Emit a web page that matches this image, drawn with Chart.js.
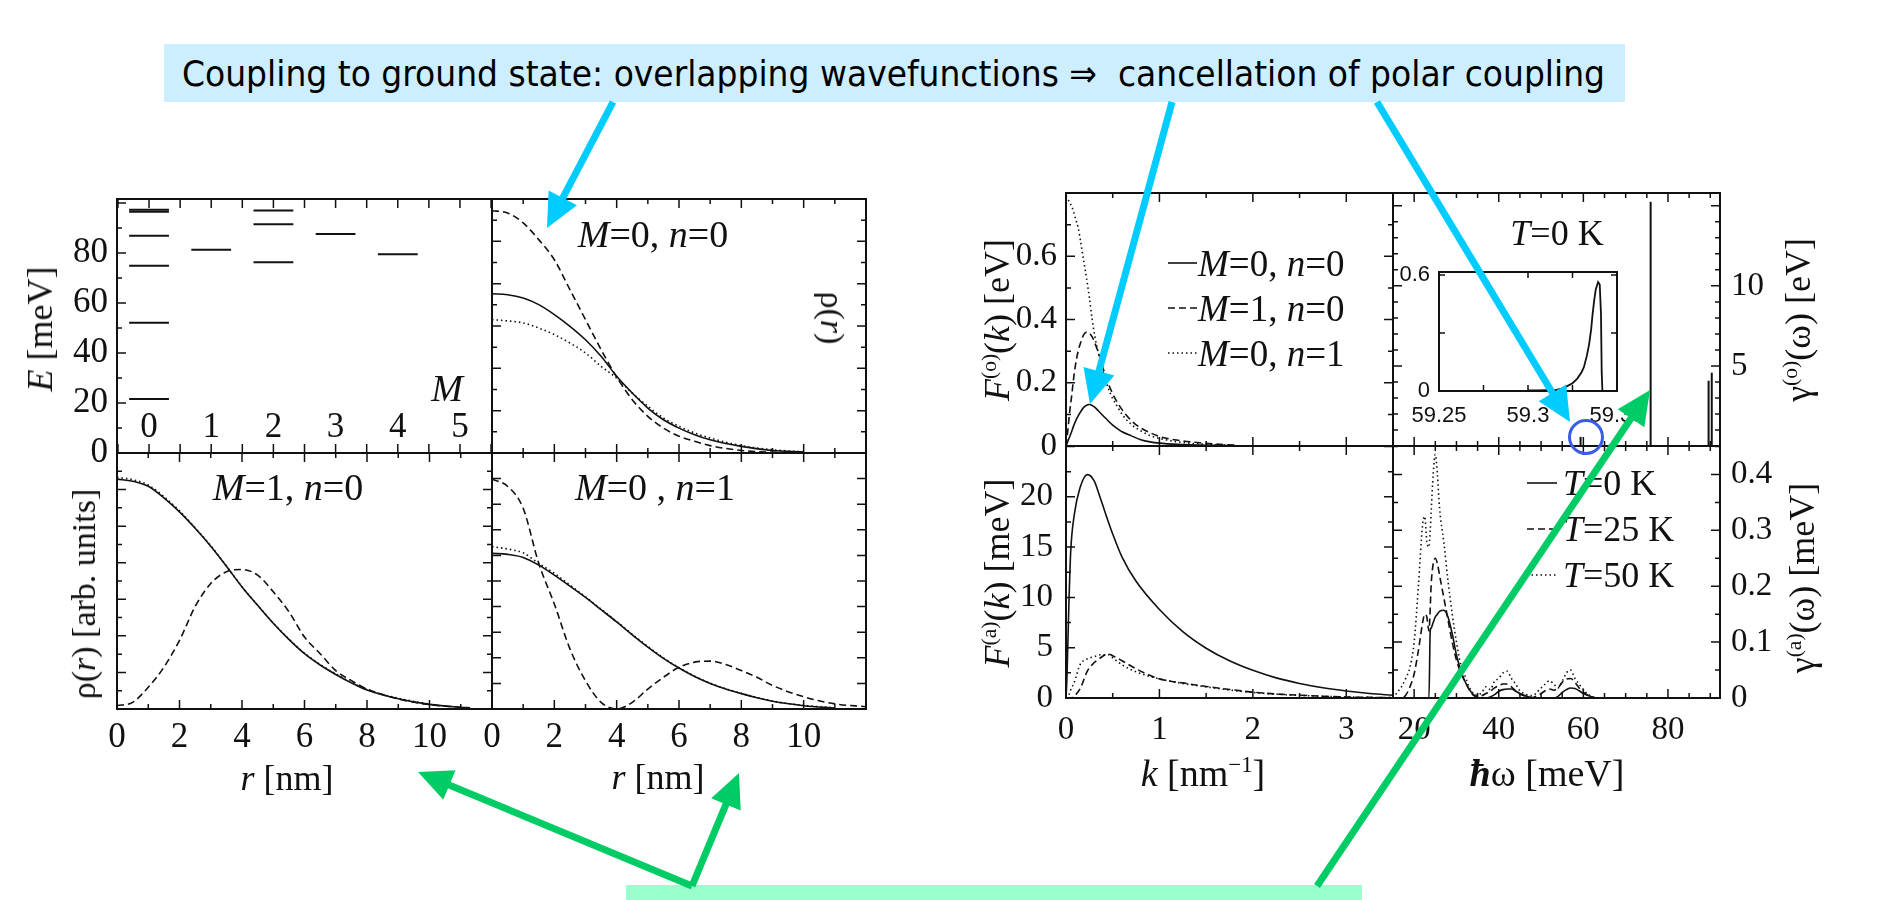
<!DOCTYPE html>
<html><head><meta charset="utf-8">
<script src="https://cdn.jsdelivr.net/npm/chart.js@4.4.1/dist/chart.umd.min.js"></script>
<style>
html,body{margin:0;padding:0;background:#fff;}
body{width:1878px;height:900px;position:relative;overflow:hidden;}
canvas.pc{position:absolute;}
.lbl{position:absolute;white-space:nowrap;font-family:'Liberation Serif','Times New Roman',serif;line-height:1;color:#111;transform-origin:center center;}
.lbl sup{font-size:0.6em;line-height:0;vertical-align:0.62em;}
#topbox{position:absolute;left:164px;top:44px;width:1461px;height:58px;background:#CCEEFF;}
#toptext{position:absolute;left:182px;top:56px;font-family:'DejaVu Sans',sans-serif;font-size:36px;line-height:36px;white-space:nowrap;color:#000;transform-origin:left center;}
#greenbox{position:absolute;left:626px;top:885px;width:736px;height:15px;background:#99FFCC;}
#ov{position:absolute;left:0;top:0;}
</style></head><body>
<div id="topbox"></div>
<div id="toptext">Coupling to ground state: overlapping wavefunctions ⇒&nbsp; cancellation of polar coupling</div>
<div id="greenbox"></div>
<script>
// ================= DATA =================
// Energy levels (top-left panel)
const levelM = [0,0,0,0,0,0,1,2,2,2,3,4];
const levelE = [21.6,52.1,74.9,86.9,96.5,97.3,81.3,76.3,91.5,97.0,87.6,79.5];
const eTicks = [0,20,40,60,80];
const eTickLabels = ['0','20','40','60','80'];
const mTicks = [0,1,2,3,4,5];
const mTickLabels = ['0','1','2','3','4','5'];
const rTicks = [0,2,4,6,8,10];
const rTickLabels = ['0','2','4','6','8','10'];

// rho(r): M=0, n=0 panel
const rTR = [0,0.5,1,1.5,2,2.5,3,3.5,4,4.5,5,5.5,6,6.5,7,8,9,10];
const trSolid = [0.627,0.623,0.61,0.584,0.545,0.499,0.446,0.381,0.302,0.236,0.177,0.131,0.098,0.072,0.052,0.026,0.01,0.004];
const trDash  = [0.954,0.945,0.906,0.84,0.761,0.643,0.525,0.407,0.299,0.21,0.144,0.098,0.066,0.046,0.029,0.01,0.003,0.001];
const trDot   = [0.525,0.52,0.512,0.492,0.466,0.433,0.394,0.341,0.295,0.236,0.184,0.138,0.105,0.079,0.059,0.029,0.013,0.004];

// rho(r): M=1, n=0 panel
const rBL = [0,0.5,1,1.5,2,2.5,3,3.5,4,4.5,5,5.5,6,6.5,7,7.5,8,9,10,11,11.3];
const blSolid = [0.898,0.89,0.87,0.825,0.77,0.706,0.636,0.558,0.477,0.405,0.335,0.272,0.216,0.172,0.135,0.102,0.074,0.04,0.018,0.007,0.005];
const blDot   = [0.905,0.896,0.875,0.83,0.774,0.708,0.638,0.559,0.478,0.405,0.336,0.273,0.218,0.174,0.137,0.104,0.076,0.042,0.019,null,null];
const blDash  = [0.013,0.026,0.085,0.163,0.268,0.4,0.49,0.536,0.545,0.523,0.458,0.38,0.281,0.216,0.15,0.111,0.078,0.039,0.017,0.007,null];

// rho(r): M=0, n=1 panel
const rBR = [0,0.5,1,1.5,2,2.5,3,3.5,4,4.5,5,5.5,6,6.5,7,7.5,8,8.5,9,10,11,12];
const brDash  = [0.898,0.87,0.784,0.569,0.41,0.235,0.11,0.026,0,0.026,0.078,0.124,0.163,0.183,0.187,0.174,0.15,0.124,0.092,0.048,0.02,0.009];
const brSolid = [0.608,0.604,0.592,0.562,0.523,0.48,0.436,0.388,0.34,0.29,0.242,0.198,0.16,0.127,0.1,0.078,0.06,0.044,0.03,0.013,0.004,null];
const brDot   = [0.634,0.625,0.61,0.569,0.53,0.484,0.438,0.39,0.342,0.292,0.244,0.2,0.161,0.128,0.101,0.079,0.061,0.045,0.031,0.014,0.005,null];

// F^(o)(k) [eV]
const kFo = [0,0.02,0.04,0.06,0.08,0.1,0.13,0.16,0.19,0.22,0.25,0.28,0.31,0.35,0.4,0.45,0.5,0.55,0.6,0.7,0.8,0.9,1.0,1.2,1.4,1.6,1.8];
const foSolid = [0,0.015,0.03,0.045,0.062,0.077,0.095,0.11,0.122,0.129,0.131,0.128,0.122,0.11,0.095,0.08,0.066,0.055,0.045,0.032,0.02,0.013,0.009,0.005,0.003,0.002,0.001];
const foDash  = [0,0.05,0.11,0.157,0.21,0.253,0.3,0.33,0.352,0.36,0.357,0.345,0.325,0.292,0.243,0.2,0.165,0.138,0.115,0.08,0.057,0.042,0.03,0.018,0.011,0.006,0.003];
const foDot   = [0.79,0.78,0.77,0.758,0.742,0.72,0.69,0.64,0.585,0.53,0.47,0.4,0.345,0.29,0.232,0.185,0.15,0.125,0.1,0.068,0.048,0.033,0.024,0.013,0.007,0.004,0.002];
const foTicks = [0,0.2,0.4,0.6];
const foTickLabels = ['0','0.2','0.4','0.6'];

// F^(a)(k) [meV]
const kFa = [0,0.01,0.03,0.05,0.09,0.15,0.23,0.3,0.37,0.45,0.5,0.6,0.75,1.0,1.25,1.5,1.75,2.0,2.25,2.5,2.75,3.0,3.25,3.5];
const faSolid = [0,2,9,14.5,18.3,20.9,22.2,21.6,19.8,17.6,16.3,14.0,11.6,8.8,6.6,4.95,3.7,2.75,2.0,1.45,1.02,0.7,0.45,0.27];
const faDash  = [0,0,0,0,0.2,0.9,2.7,3.5,4.0,4.4,4.2,3.7,2.9,1.9,1.5,1.15,0.85,0.58,0.4,0.28,0.18,0.1,0.06,0.03];
const faDot   = [0,0.05,0.3,0.8,1.6,3.3,3.9,4.1,4.3,4.3,4.0,3.3,2.6,1.9,1.45,1.1,0.8,0.55,0.38,0.26,0.17,0.1,0.06,0.03];
const kTicks = [0,1,2,3];
const kTickLabels = ['0','1','2','3'];
const faTicks = [0,5,10,15,20];
const faTickLabels = ['0','5','10','15','20'];

// gamma^(o)(omega) [eV]: delta-like peaks
const spikeW = [59.34,75.9,89.6,90.35];
const spikeH = [0.57,15.25,4.08,4.58];
const goTicks = [5,10];
const goTickLabels = ['5','10'];
// inset (zoom around 59.3 meV)
const insetW = [59.300,59.305,59.310,59.316,59.320,59.322,59.325,59.3277,59.3300,59.3314,59.3330,59.3343,59.3355,59.3362,59.3372,59.3381,59.3394,59.3403,59.3410,59.3414,59.3418,59.3420];
const insetG = [0.003,0.003,0.004,0.006,0.015,0.025,0.04,0.064,0.095,0.123,0.18,0.24,0.32,0.39,0.47,0.526,0.563,0.55,0.4,0.1,0.0,0.0];
const insetXTicks = [59.25,59.3,59.35];
const insetXLabels = ['59.25','59.3','59.35'];
const insetYTicks = [0,0.6];
const insetYLabels = ['0','0.6'];

// gamma^(a)(omega) [meV]
const wA = [15,16,17,18,19,20,21,22,22.5,23,23.5,23.8,24,24.5,25,25.5,26,27,28,29,30,31,32,33,34,35,36,37,38,39,40,41,42,43,44,45,46,47,48,49,50,51,52,53,54,55,56,57,58,59,60,61,62,63,64];
const gaT0  = [0,0,0,0,0,0,0,0,0,0,0,0.12,0.125,0.135,0.145,0.15,0.155,0.157,0.145,0.115,0.077,0.05,0.03,0.016,0.006,0.001,0,0,0.002,0.006,0.012,0.015,0.016,0.016,0.012,0.008,0.005,0.002,0,0,0,0,0,0,0.003,0.01,0.015,0.018,0.017,0.013,0.008,0.005,0.002,0,0];
const gaT25 = [0,0,0,0.005,0.02,0.043,0.085,0.135,0.15,0.145,0.12,0.16,0.2,0.24,0.25,0.24,0.22,0.18,0.14,0.1,0.068,0.045,0.03,0.015,0.005,0.002,0.004,0.008,0.012,0.018,0.022,0.025,0.025,0.02,0.013,0.007,0.004,0.002,0.001,0.004,0.008,0.013,0.016,0.014,0.018,0.028,0.034,0.035,0.028,0.018,0.01,0.005,0.002,0,0];
const gaT50 = [0,0.01,0.02,0.035,0.055,0.1,0.2,0.31,0.325,0.28,0.27,0.3,0.33,0.4,0.436,0.4,0.34,0.28,0.21,0.15,0.1,0.06,0.04,0.02,0.008,0.005,0.01,0.02,0.015,0.03,0.035,0.045,0.048,0.035,0.025,0.013,0.008,0.005,0.004,0.01,0.018,0.025,0.031,0.025,0.018,0.03,0.045,0.05,0.035,0.025,0.015,0.007,0.003,0,0];
const wTicks = [20,40,60,80];
const wTickLabels = ['20','40','60','80'];
const gaTicks = [0,0.1,0.2,0.3,0.4];
const gaTickLabels = ['0','0.1','0.2','0.3','0.4'];

// ================= STYLE / HELPERS =================
const SERIF = "'Liberation Serif'";
const SANS = "'Liberation Sans'";
const INK = '#111';
const DASH = {solid: [], dash: [7,4], dot: [1.5,3]};
const LEVEL_HALF_WIDTH = 0.32;
const PAD = 150;      // canvas margin around each plot area
const SCALE_BOX = 100; // fixed thickness of every axis box

const frameTicksPlugin = {
  id: 'frameTicks',
  afterDatasetsDraw(chart, args, o) {
    const {ctx, chartArea: a, scales} = chart;
    ctx.save();
    ctx.strokeStyle = INK;
    ctx.lineWidth = o.lw || 2;
    ctx.strokeRect(a.left, a.top, a.right - a.left, a.bottom - a.top);
    ctx.lineWidth = 1.5;
    const LM = o.maj || 9, Lm = o.mnr || 5;
    const draw = (ax, spec) => {
      if (!spec) return;
      const start = Math.ceil((ax.min - 1e-9) / spec.minor) * spec.minor;
      ctx.beginPath();
      for (let i = 0; ; i++) {
        const v = start + i * spec.minor;
        if (v > ax.max + 1e-9) break;
        const q = v / spec.major;
        const L = Math.abs(q - Math.round(q)) < 1e-6 ? LM : Lm;
        const p = ax.getPixelForValue(v);
        for (const s of spec.sides) {
          if (s === 'bottom') { ctx.moveTo(p, a.bottom); ctx.lineTo(p, a.bottom - L); }
          if (s === 'top') { ctx.moveTo(p, a.top); ctx.lineTo(p, a.top + L); }
          if (s === 'left') { ctx.moveTo(a.left, p); ctx.lineTo(a.left + L, p); }
          if (s === 'right') { ctx.moveTo(a.right, p); ctx.lineTo(a.right - L, p); }
        }
      }
      ctx.stroke();
    };
    draw(scales.x, o.x);
    draw(scales.y, o.y);
    ctx.restore();
  }
};

function axis(s) {
  return {
    type: 'linear', position: s.pos, min: s.min, max: s.max,
    grid: {display: false, drawTicks: false}, border: {display: false},
    ticks: {
      display: !!s.ticks, autoSkip: false, maxRotation: 0, minRotation: 0,
      mirror: !!s.mirror,
      padding: s.pad || 0, color: INK,
      font: {family: s.family || SERIF, size: s.size || 32},
      callback: (v, i) => (s.labels ? s.labels[i] : '')
    },
    afterBuildTicks: sc => { if (s.ticks) sc.ticks = s.ticks.map(v => ({value: v})); },
    afterFit: sc => {
      if (sc.isHorizontal()) sc.height = SCALE_BOX; else sc.width = SCALE_BOX;
      sc.paddingLeft = sc.paddingRight = sc.paddingTop = sc.paddingBottom = 0;
    }
  };
}

function series(xs, ys, style, extra) {
  return Object.assign({
    data: xs.map((x, i) => ({x: x, y: ys[i]})),
    showLine: true, pointRadius: 0, borderColor: INK, borderWidth: 1.6,
    borderDash: DASH[style], cubicInterpolationMode: 'monotone', spanGaps: false, fill: false
  }, extra || {});
}

function panel(box, datasets, sx, sy, frame) {
  const [x0, y0, x1, y1] = box;
  const c = document.createElement('canvas');
  c.className = 'pc';
  c.width = (x1 - x0) + 2 * PAD;
  c.height = (y1 - y0) + 2 * PAD;
  c.style.left = (x0 - PAD) + 'px';
  c.style.top = (y0 - PAD) + 'px';
  document.body.appendChild(c);
  const padding = {
    top: PAD,
    bottom: PAD - SCALE_BOX,
    left: PAD - (sy.pos === 'left' ? SCALE_BOX : 0),
    right: PAD - (sy.pos === 'right' ? SCALE_BOX : 0)
  };
  return new Chart(c, {
    type: 'scatter',
    data: {datasets: datasets},
    options: {
      responsive: false, animation: false, devicePixelRatio: 1,
      layout: {padding: padding},
      plugins: {legend: {display: false}, tooltip: {enabled: false}, frameTicks: frame},
      scales: {x: axis(sx), y: axis(sy)}
    },
    plugins: [frameTicksPlugin]
  });
}

// ================= LEFT GROUP =================
const levelSets = levelE.map((e, i) => ({
  data: [{x: levelM[i] - LEVEL_HALF_WIDTH, y: e}, {x: levelM[i] + LEVEL_HALF_WIDTH, y: e}],
  showLine: true, pointRadius: 0, borderColor: INK, borderWidth: 2, fill: false
}));
panel([117,199,492,453], levelSets,
  {pos:'bottom', min:-0.515, max:5.515, ticks:mTicks, labels:mTickLabels, mirror:true, pad:4, size:35},
  {pos:'left', min:0, max:101.6, ticks:eTicks, labels:eTickLabels, pad:9, size:35},
  {x:{minor:0.5, major:0.5, sides:['bottom','top']}, y:{minor:10, major:20, sides:['left']}});

panel([492,199,866,453], [series(rTR, trSolid, 'solid'), series(rTR, trDash, 'dash'), series(rTR, trDot, 'dot')],
  {pos:'bottom', min:0, max:12},
  {pos:'left', min:0, max:1},
  {x:{minor:1, major:2, sides:['bottom','top']}, y:{minor:1/12, major:1/6, sides:['left','right']}});

panel([117,453,492,709], [series(rBL, blSolid, 'solid'), series(rBL, blDash, 'dash'), series(rBL, blDot, 'dot')],
  {pos:'bottom', min:0, max:12, ticks:rTicks, labels:rTickLabels, pad:8, size:35},
  {pos:'left', min:0, max:1},
  {x:{minor:1, major:2, sides:['bottom','top']}, y:{minor:1/14, major:1/7, sides:['left','right']}});

panel([492,453,866,709], [series(rBR, brSolid, 'solid'), series(rBR, brDash, 'dash'), series(rBR, brDot, 'dot')],
  {pos:'bottom', min:0, max:12, ticks:rTicks, labels:rTickLabels, pad:8, size:35},
  {pos:'left', min:0, max:1},
  {x:{minor:1, major:2, sides:['bottom','top']}, y:{minor:0.1, major:0.1, sides:['left','right']}});

// ================= RIGHT GROUP =================
panel([1066,193,1393,446], [series(kFo, foSolid, 'solid'), series(kFo, foDash, 'dash'), series(kFo, foDot, 'dot')],
  {pos:'bottom', min:0, max:3.5},
  {pos:'left', min:0, max:0.8, ticks:foTicks, labels:foTickLabels, pad:9, size:33},
  {x:{minor:0.5, major:1, sides:['bottom','top']}, y:{minor:0.1, major:0.2, sides:['left','right']}});

const spikeSets = spikeW.map((w, i) => ({
  data: [{x: w, y: 0}, {x: w, y: spikeH[i]}],
  showLine: true, pointRadius: 0, borderColor: INK, borderWidth: 2, fill: false
}));
panel([1393,193,1720,446], spikeSets,
  {pos:'bottom', min:15, max:92.3},
  {pos:'right', min:0, max:15.8, ticks:goTicks, labels:goTickLabels, pad:11, size:33},
  {x:{minor:5, major:20, sides:['bottom','top']}, y:{minor:1, major:5, sides:['left','right']}});

panel([1439,272,1617,391], [series(insetW, insetG, 'solid', {borderWidth: 1.8, cubicInterpolationMode: 'default', tension: 0})],
  {pos:'bottom', min:59.25, max:59.35, ticks:insetXTicks, labels:insetXLabels, pad:11.8, size:22, family:SANS},
  {pos:'left', min:0, max:0.615, ticks:insetYTicks, labels:insetYLabels, pad:9, size:22, family:SANS},
  {lw:2, maj:6, mnr:6, x:{minor:0.025, major:0.025, sides:['bottom','top']}, y:{minor:0.3, major:0.3, sides:['left','right']}});

panel([1066,446,1393,698], [series(kFa, faSolid, 'solid'), series(kFa, faDash, 'dash'), series(kFa, faDot, 'dot')],
  {pos:'bottom', min:0, max:3.5, ticks:kTicks, labels:kTickLabels, pad:12.2, size:33},
  {pos:'left', min:0, max:25.05, ticks:faTicks, labels:faTickLabels, pad:13, size:33},
  {x:{minor:0.5, major:1, sides:['bottom','top']}, y:{minor:2.5, major:5, sides:['left','right']}});

panel([1393,446,1720,698], [series(wA, gaT0, 'solid'), series(wA, gaT25, 'dash'), series(wA, gaT50, 'dot')],
  {pos:'bottom', min:15, max:92.3, ticks:wTicks, labels:wTickLabels, pad:12.2, size:33},
  {pos:'right', min:0, max:0.451, ticks:gaTicks, labels:gaTickLabels, pad:11, size:33},
  {x:{minor:5, major:20, sides:['bottom','top']}, y:{minor:0.05, major:0.1, sides:['left','right']}});

// ================= TEXT =================
function lbl(html, x, y, size, rot, anchor) {
  const d = document.createElement('div');
  d.className = 'lbl';
  d.innerHTML = html;
  d.style.fontSize = size + 'px';
  d.style.left = x + 'px';
  d.style.top = y + 'px';
  const tx = anchor === 'left' ? '0' : '-50%';
  d.style.transform = `translate(${tx},-50%) rotate(${rot || 0}deg)`;
  document.body.appendChild(d);
  return d;
}
lbl('<i>M</i>', 447, 388, 38);
lbl('<i>M</i>=0, <i>n</i>=0', 653, 234, 38);
lbl('ρ(<i>r</i>)', 832, 318, 34, 90);
lbl('<i>M</i>=1, <i>n</i>=0', 288, 487, 38);
lbl('<i>M</i>=0 , <i>n</i>=1', 655, 487, 38);
lbl('<i>E</i> [meV]', 40, 329, 36, -90);
lbl('ρ(<i>r</i>) [arb. units]', 84, 594, 34, -90);
lbl('<i>r</i> [nm]', 287, 778, 36);
lbl('<i>r</i> [nm]', 658, 777, 36);
lbl('<i>F</i><sup>(o)</sup>(<i>k</i>) [eV]', 997, 320, 36, -90);
lbl('<i>F</i><sup>(a)</sup>(<i>k</i>) [meV]', 997, 573, 36, -90);
lbl('γ<sup>(o)</sup>(ω) [eV]', 1798, 320, 36, -90);
lbl('γ<sup>(a)</sup>(ω) [meV]', 1802, 578, 36, -90);
lbl('<i>k</i> [nm<sup>−1</sup>]', 1203, 773, 38);
lbl('<b><i>ħ</i></b>ω [meV]', 1547, 773, 38);
lbl('<i>T</i>=0 K', 1557, 233, 36);
// legends
lbl('<i>M</i>=0, <i>n</i>=0', 1198, 263, 37, 0, 'left');
lbl('<i>M</i>=1, <i>n</i>=0', 1198, 308, 37, 0, 'left');
lbl('<i>M</i>=0, <i>n</i>=1', 1198, 353, 37, 0, 'left');
lbl('<i>T</i>=0 K', 1563, 483, 36, 0, 'left');
lbl('<i>T</i>=25 K', 1563, 529, 36, 0, 'left');
lbl('<i>T</i>=50 K', 1563, 575, 36, 0, 'left');

// fit the banner text width
const tt = document.getElementById('toptext');
const tw = tt.getBoundingClientRect().width;
tt.style.transform = 'scaleX(' + (1423 / tw) + ')';

// ================= OVERLAY: legend samples, arrows, circle =================
const NS = 'http://www.w3.org/2000/svg';
const svg = document.createElementNS(NS, 'svg');
svg.setAttribute('id', 'ov');
svg.setAttribute('width', 1878);
svg.setAttribute('height', 900);
document.body.appendChild(svg);
function el(tag, attrs) {
  const e = document.createElementNS(NS, tag);
  for (const k in attrs) e.setAttribute(k, attrs[k]);
  svg.appendChild(e);
  return e;
}
function sample(x1, x2, y, style) {
  el('line', {x1:x1, y1:y, x2:x2, y2:y, stroke:INK, 'stroke-width':1.6,
    'stroke-dasharray': style === 'dash' ? '7 4' : (style === 'dot' ? '1.5 3' : 'none')});
}
sample(1168,1197,263,'solid'); sample(1168,1197,308,'dash'); sample(1168,1197,353,'dot');
sample(1527,1557,483,'solid'); sample(1527,1557,529,'dash'); sample(1527,1557,575,'dot');

function arrow(x1, y1, x2, y2, color) {
  const hl = 34, hw = 16, w = 7;
  const dx = x2 - x1, dy = y2 - y1, L = Math.hypot(dx, dy), ux = dx / L, uy = dy / L;
  const bx = x2 - ux * hl, by = y2 - uy * hl;
  el('line', {x1:x1, y1:y1, x2:bx + ux * 3, y2:by + uy * 3, stroke:color, 'stroke-width':w});
  el('polygon', {points: `${x2},${y2} ${bx - uy * hw},${by + ux * hw} ${bx + uy * hw},${by - ux * hw}`, fill:color});
}
const CYAN = '#00CCFF', GREEN = '#00CC66';
arrow(613, 102, 547, 228, CYAN);
arrow(1172, 102, 1090, 404, CYAN);
arrow(1377, 102, 1570, 422, CYAN);
arrow(692, 886, 418, 772, GREEN);
arrow(692, 886, 739, 773, GREEN);
arrow(1317, 886, 1650, 390, GREEN);
el('circle', {cx:1586, cy:437, r:16.5, fill:'none', stroke:'#3B5BEB', 'stroke-width':3});
</script>
</body></html>
